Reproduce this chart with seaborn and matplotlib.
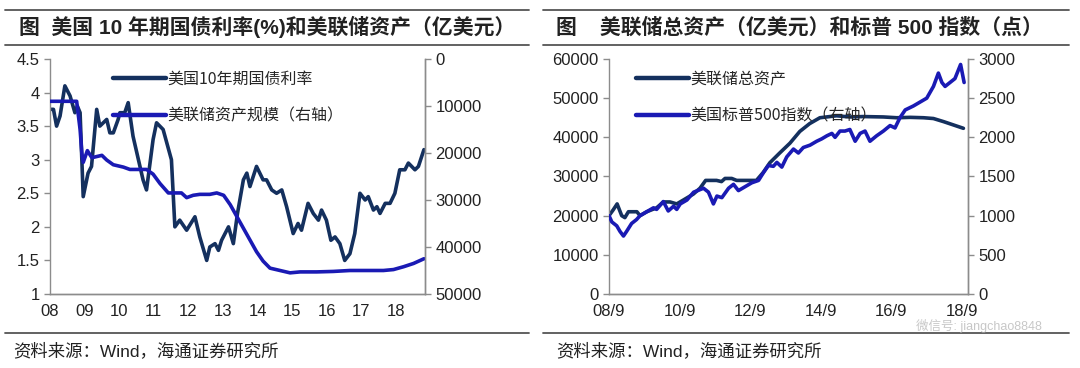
import matplotlib

matplotlib.use("Agg")
import matplotlib.pyplot as plt
import pandas as pd
import seaborn as sns
from matplotlib.lines import Line2D

# ---- left panel: 10y yield (%) and Fed assets (reversed right axis) ----------
YIELD_T = [2008.00, 2008.10, 2008.19, 2008.29, 2008.43, 2008.58, 2008.72, 2008.79,
           2008.87, 2008.96, 2009.10, 2009.20, 2009.35, 2009.44, 2009.64, 2009.73,
           2009.83, 2009.97, 2010.02, 2010.16, 2010.26, 2010.40, 2010.69, 2010.79,
           2010.98, 2011.08, 2011.27, 2011.51, 2011.61, 2011.75, 2011.95, 2012.19,
           2012.33, 2012.53, 2012.62, 2012.77, 2012.87, 2012.96, 2013.16, 2013.30,
           2013.42, 2013.59, 2013.69, 2013.78, 2013.97, 2014.16, 2014.26, 2014.41,
           2014.55, 2014.70, 2014.84, 2015.03, 2015.17, 2015.27, 2015.46, 2015.61,
           2015.76, 2015.85, 2015.99, 2016.12, 2016.24, 2016.38, 2016.52, 2016.67,
           2016.81, 2016.96, 2017.11, 2017.20, 2017.35, 2017.45, 2017.54, 2017.69,
           2017.83, 2017.97, 2018.11, 2018.26, 2018.36, 2018.55, 2018.65, 2018.81]
YIELD = [3.75, 3.75, 3.50, 3.65, 4.10, 3.95, 3.70, 3.80,
         3.70, 2.45, 2.80, 2.90, 3.75, 3.50, 3.60, 3.40,
         3.40, 3.60, 3.70, 3.70, 3.85, 3.35, 2.70, 2.55,
         3.30, 3.55, 3.45, 3.00, 2.00, 2.10, 1.95, 2.15,
         1.85, 1.50, 1.70, 1.75, 1.65, 1.80, 2.00, 1.75,
         2.20, 2.70, 2.80, 2.60, 2.90, 2.70, 2.70, 2.55,
         2.50, 2.55, 2.30, 1.90, 2.05, 1.95, 2.35, 2.20,
         2.10, 2.25, 2.10, 1.80, 1.85, 1.75, 1.50, 1.60,
         1.90, 2.50, 2.40, 2.45, 2.25, 2.30, 2.20, 2.35,
         2.35, 2.50, 2.85, 2.85, 2.95, 2.85, 2.90, 3.15]

FED_T = [2008.00, 2008.77, 2008.87, 2008.92, 2008.96, 2009.08, 2009.21, 2009.50,
         2009.64, 2009.83, 2010.12, 2010.31, 2010.79, 2010.98, 2011.18, 2011.42,
         2011.56, 2011.80, 2011.95, 2012.14, 2012.33, 2012.62, 2012.82, 2013.02,
         2013.21, 2013.40, 2013.59, 2013.78, 2013.97, 2014.16, 2014.36, 2014.65,
         2014.94, 2015.23, 2015.71, 2016.19, 2016.67, 2017.15, 2017.64, 2017.93,
         2018.22, 2018.51, 2018.81]
FED = [9000, 9000, 15000, 20000, 22000, 19500, 21000, 20500,
       21500, 22500, 23000, 23500, 23500, 24500, 26500, 28500,
       28500, 28500, 29500, 29000, 28800, 28800, 28500, 29000,
       31000, 33500, 36000, 38500, 41000, 43000, 44500, 45000,
       45500, 45300, 45300, 45200, 45000, 45000, 45000, 44800,
       44200, 43500, 42500]

LEFT_XTICKS = list(range(2008, 2019))
LEFT_XLABELS = ["08", "09", "10", "11", "12", "13", "14", "15", "16", "17", "18"]

# ---- right panel: Fed total assets and S&P 500 -----------------------------
ASSET_T = [2008.67, 2008.79, 2008.90, 2009.03, 2009.12, 2009.22, 2009.46, 2009.55,
           2009.74, 2010.02, 2010.21, 2010.40, 2010.59, 2010.78, 2011.06, 2011.25,
           2011.41, 2011.72, 2011.86, 2011.96, 2012.15, 2012.29, 2012.57, 2012.85,
           2013.04, 2013.23, 2013.51, 2013.80, 2014.08, 2014.36, 2014.65, 2015.12,
           2015.50, 2015.88, 2016.45, 2016.83, 2017.21, 2017.59, 2017.87, 2018.16,
           2018.72]
ASSET = [20000, 21500, 23000, 20000, 19500, 21000, 21000, 20000,
         21000, 22000, 23500, 23500, 23000, 24000, 25500, 27000,
         29000, 29000, 28700, 29500, 29500, 29000, 29000, 29000,
         31000, 33500, 36000, 38500, 41500, 43500, 45000, 45500,
         45200, 45300, 45200, 45000, 45100, 45000, 44800, 44000,
         42300]

SPX_T = [2008.67, 2008.75, 2008.89, 2008.98, 2009.08, 2009.17, 2009.31, 2009.45,
         2009.55, 2009.74, 2009.93, 2010.02, 2010.21, 2010.35, 2010.50, 2010.59,
         2010.69, 2010.88, 2011.07, 2011.35, 2011.49, 2011.63, 2011.73, 2011.87,
         2012.06, 2012.20, 2012.34, 2012.53, 2012.72, 2012.91, 2013.05, 2013.19,
         2013.33, 2013.43, 2013.57, 2013.71, 2013.90, 2014.04, 2014.18, 2014.37,
         2014.56, 2014.70, 2014.85, 2014.99, 2015.08, 2015.22, 2015.36, 2015.50,
         2015.65, 2015.79, 2015.93, 2016.07, 2016.26, 2016.45, 2016.64, 2016.78,
         2016.92, 2017.07, 2017.30, 2017.49, 2017.68, 2017.87, 2018.01, 2018.11,
         2018.20, 2018.34, 2018.48, 2018.64, 2018.74]
SPX = [1000, 920, 870, 800, 740, 800, 900, 950,
       1000, 1050, 1100, 1080, 1180, 1060, 1120, 1080,
       1150, 1200, 1300, 1350, 1300, 1150, 1250, 1230,
       1350, 1400, 1320, 1370, 1420, 1450, 1550, 1640,
       1630, 1680, 1620, 1750, 1850, 1800, 1870, 1900,
       1950, 1980, 2020, 2050, 2000, 2080, 2080, 2100,
       1950, 2050, 2080, 1950, 2020, 2080, 2150, 2120,
       2250, 2350, 2400, 2450, 2500, 2650, 2820, 2700,
       2650, 2700, 2750, 2930, 2700]

RIGHT_XTICKS = [2008.67, 2010.67, 2012.67, 2014.67, 2016.67, 2018.67]
RIGHT_XLABELS = ["08/9", "10/9", "12/9", "14/9", "16/9", "18/9"]

NAVY = "#14305e"
BLUE = "#1a1ab4"
GRAY = "#8c8c8c"
TXT = "#222222"

sns.set_style("white")
plt.rcParams["font.family"] = ["Liberation Sans", "Noto Sans CJK SC", "DejaVu Sans"]

fig = plt.figure(figsize=(10.8, 3.68), dpi=100)


def style_axis(ax):
    ax.spines["top"].set_visible(False)
    for side in ["left", "right", "bottom"]:
        ax.spines[side].set_color(GRAY)
        ax.spines[side].set_linewidth(1.0)
    ax.tick_params(direction="out", length=4, color=GRAY, labelsize=12,
                   labelcolor=TXT, width=1.0)
    ax.grid(False)


def add_legend(ax, labels, x_anchor):
    handles = [Line2D([], [], color=NAVY, lw=3.2), Line2D([], [], color=BLUE, lw=3.2)]
    ax.legend(handles, labels, loc="upper left", bbox_to_anchor=(x_anchor, 1.01),
              frameon=False, fontsize=11.5, handlelength=3.3, handletextpad=0.1,
              labelspacing=1.2,
              prop={"family": ["Noto Sans CJK SC", "DejaVu Sans"], "size": 11.5})


# ---------------- left panel -------------------------------------------------
ax1 = fig.add_axes([0.0463, 0.2011, 0.3472, 0.6386])
ax1b = ax1.twinx()
y_df = pd.DataFrame({"t": YIELD_T, "v": YIELD})
f_df = pd.DataFrame({"t": FED_T, "v": FED})
sns.lineplot(data=y_df, x="t", y="v", ax=ax1, color=NAVY, lw=2.6)
sns.lineplot(data=f_df, x="t", y="v", ax=ax1b, color=BLUE, lw=2.6)
ax1.set_xlim(2008, 2018.84)
ax1.set_ylim(1, 4.5)
ax1.set_yticks([1, 1.5, 2, 2.5, 3, 3.5, 4, 4.5])
ax1.set_yticklabels(["1", "1.5", "2", "2.5", "3", "3.5", "4", "4.5"])
ax1b.set_ylim(50000, 0)
ax1b.set_yticks(range(0, 50001, 10000))
ax1.set_xticks(LEFT_XTICKS)
ax1.set_xticklabels(LEFT_XLABELS)
for a in (ax1, ax1b):
    a.set_xlabel("")
    a.set_ylabel("")
    style_axis(a)
ax1b.spines["left"].set_visible(False)
add_legend(ax1, ["美国10年期国债利率", "美联储资产规模（右轴）"], 0.13)

# ---------------- right panel ------------------------------------------------
ax2 = fig.add_axes([0.5639, 0.2011, 0.3324, 0.6386])
ax2b = ax2.twinx()
a_df = pd.DataFrame({"t": ASSET_T, "v": ASSET})
s_df = pd.DataFrame({"t": SPX_T, "v": SPX})
sns.lineplot(data=a_df, x="t", y="v", ax=ax2, color=NAVY, lw=2.6)
sns.lineplot(data=s_df, x="t", y="v", ax=ax2b, color=BLUE, lw=2.6)
ax2.set_xlim(2008.67, 2018.85)
ax2.set_ylim(0, 60000)
ax2.set_yticks(range(0, 60001, 10000))
ax2b.set_ylim(0, 3000)
ax2b.set_yticks(range(0, 3001, 500))
ax2.set_xticks(RIGHT_XTICKS)
ax2.set_xticklabels(RIGHT_XLABELS)
for a in (ax2, ax2b):
    a.set_xlabel("")
    a.set_ylabel("")
    style_axis(a)
ax2b.spines["left"].set_visible(False)
add_legend(ax2, ["美联储总资产", "美国标普500指数（右轴）"], 0.035)

# ---------------- titles, rules and source notes -----------------------------
for x0, x1 in [(0.005, 0.49), (0.503, 0.99)]:
    for y in (1 - 10 / 368, 1 - 45 / 368, 1 - 333 / 368):
        fig.add_artist(Line2D([x0, x1], [y, y], transform=fig.transFigure,
                              color="#555555", lw=1.3))

fig.text(0.018, 1 - 27 / 368, "图  美国 10 年期国债利率(%)和美联储资产（亿美元）",
         fontsize=15, fontweight="bold", color=TXT, va="center", ha="left")
fig.text(0.515, 1 - 27 / 368, "图    美联储总资产（亿美元）和标普 500 指数（点）",
         fontsize=15, fontweight="bold", color=TXT, va="center", ha="left")
fig.text(0.012, 1 - 351 / 368, "资料来源：Wind，海通证券研究所", fontsize=12.5,
         color=TXT, va="center", ha="left")
fig.text(0.515, 1 - 351 / 368, "资料来源：Wind，海通证券研究所", fontsize=12.5,
         color=TXT, va="center", ha="left")
fig.text(0.965, 1 - 326 / 368, "微信号: jiangchao8848", fontsize=9,
         color="#b0b0b0", alpha=0.7, va="center", ha="right")

fig.savefig("out.png", dpi=100)
